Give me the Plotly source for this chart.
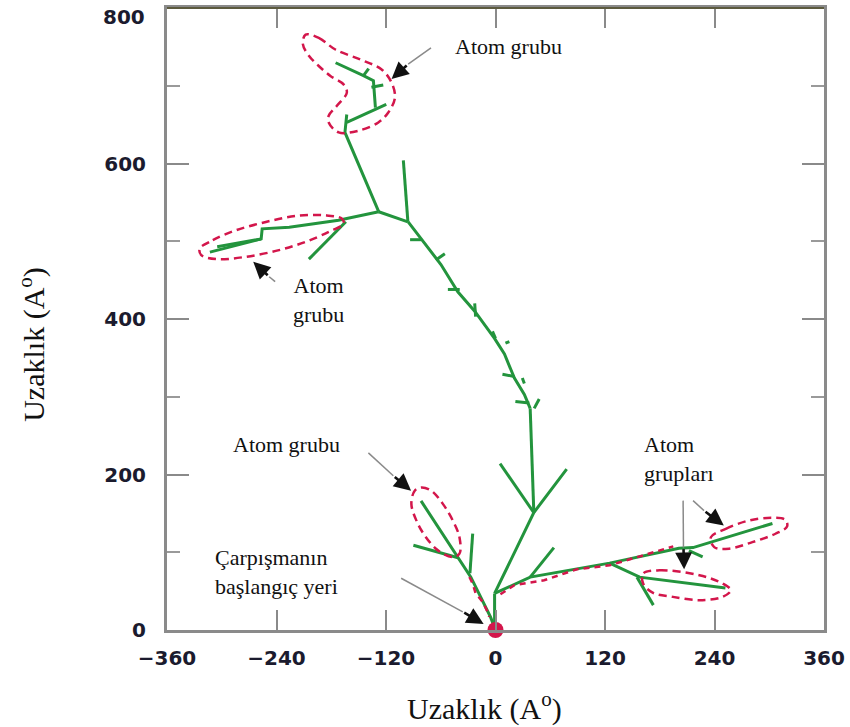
import plotly.graph_objects as go

# ---------------- data (Angstrom) ----------------
# green collision-cascade branches
origin_stem_x = [0, -1, -1]
origin_stem_y = [0, 10, 47]
lower_trunk_x = [-1, 42, 78]
lower_trunk_y = [47, 151, 207]
v_arm_x = [5, 42]
v_arm_y = [214, 151]
vertical_trunk_x = [42, 40, 38]
vertical_trunk_y = [151, 220, 285]
upper_trunk_x = [38, 31.6, 20.7, 9.8, -1.1, -22.8, -41.3, -59.8, -95.7]
upper_trunk_y = [285, 303, 324, 355, 375, 410, 435, 470, 525]
fork_up_x = [-96, -101]
fork_up_y = [525, 604]
fork_left_x = [-96, -128]
fork_left_y = [525, 538]
top_branch_x = [-128, -165, -163]
top_branch_y = [538, 640, 663]
top_cluster_x = [-163, -119.7, None, -131.6, -133.8, -144.7, -175.2, None,
                 -136, -123, None, -144.7, -139]
top_cluster_y = [653, 676, None, 672, 706.6, 713, 729.6, None,
                 698, 701, None, 713, 722]
left_cluster_x = [-128, -172, -226, -255.7, -256.8, -313, None, -256.8, -305, None, -164, -204.5]
left_cluster_y = [538, 527, 518, 516, 503, 486, None, 503, 493, None, 525, 477]
trunk_twigs_x = [-93.6, -81.6, None, -65.3, -55.5, None, -52.2, -39.2, None,
                 -22.8, -21.8, None, -3.3, 0, None, 10.9, 15.2, None,
                 7.6, 20.7, None, 29.4, 31.6, None, 21.8, 37, None, 42.4, 47.9]
trunk_twigs_y = [502, 502, None, 476, 484, None, 438, 438, None,
                 420, 403, None, 384, 375, None, 369, 371, None,
                 329, 326, None, 324, 317, None, 294, 292, None, 285, 297]
right_short_x = [38, 64]
right_short_y = [68, 106]
long_right_x = [-1, 38, 125, 201, 216.5, 303.5, None, 212, 227]
long_right_y = [47, 68, 86, 105, 106, 137, None, 102, 94]
lower_right_x = [125, 158, 252, None, 155, 173]
lower_right_y = [86, 68, 54, None, 68, 32]
lower_left_x = [0, -5.4, -27, -81.6, None, -25, -28, None, -41, -90]
lower_left_y = [0, 16.6, 68, 166, None, 124, 73, None, 93, 109]

# red dashed outlines of atom groups
top_group_x = [-208.1, -193.7, -175.5, -148.3, -124.8, -113.9, -110.2, -117.5, -128.4, -150.1,
               -171.9, -182.8, -182.8, -173.8, -162.9, -166.5, -180.9, -193.7, -204.5, -211.1]
top_group_y = [765.8, 761.6, 746.6, 733.8, 721, 704, 684.8, 665.6, 652.8, 642.2,
               640, 652.8, 661.4, 674.2, 691.2, 701.8, 712.6, 725.4, 738.6, 753.4]
left_group_x = [-324.2, -309.8, -284.3, -251.7, -219, -186.4, -168.3, -166.5, -182.8,
                -208.1, -237.2, -273.4, -306, -322.4]
left_group_y = [490.6, 501.4, 514.2, 524.8, 532.5, 533.4, 529, 522.6, 512,
                499.2, 488.6, 480, 477, 482.2]
lowleft_group_x = [-88.5, -81.3, -70.4, -57.7, -46.8, -39.5, -39.5, -46.8, -63.1, -77.6, -86.7, -92.2]
lowleft_group_y = [179.2, 183.4, 179.2, 162.2, 140.8, 119.4, 98.2, 93.8, 102.4, 121.6, 140.8, 162.2]
upright_group_x = [236.1, 252.4, 277.8, 303.2, 317.7, 319.5, 306.8, 281.5, 256, 239.7]
upright_group_y = [119.4, 130.2, 140.8, 144.3, 141.7, 133.1, 123.8, 113, 104.6, 106.6]
lowright_group_x = [161.8, 179.9, 223.4, 248.8, 257.9, 248.8, 223.4, 194.4, 172.7, 161.8]
lowright_group_y = [72.6, 76.8, 70.4, 59.8, 51.2, 42.6, 38.4, 42.6, 47.7, 59.8]
left_dash_x = [-28.6, -25, -21.8, -14.1, -8.7, -6.9]
left_dash_y = [68.2, 59.8, 47.4, 36.2, 23.4, 17]
right_dash_x = [5.4, 20.7, 53.3, 89.2, 125.1, 157.8, 194.8]
right_dash_y = [46, 57.6, 64, 78.1, 83.2, 94.7, 107.5]

# collision start point
start_x = [0]
start_y = [0]

# arrows: tail, start of black head, tip
arrow_tail_x = [-70.7, -241.5, -139.3, -103.4, 205.6, 216.5]
arrow_tail_y = [748.8, 448.0, 227.8, 66.6, 166.4, 166.4]
arrow_head_x = [-95.7, -248.0, -112.0, -35.9, 206.0, 228.5]
arrow_head_y = [727.7, 454.4, 198.4, 23.4, 106.0, 153.6]
arrow_tip_x = [-113.9, -265.5, -92.5, -13.0, 206.7, 250.2]
arrow_tip_y = [708.6, 473.6, 179.2, 7.7, 78.0, 134.4]

# labels
label_texts = ["Atom grubu", "Atom<br>grubu", "Atom grubu", "Atom<br>grupları",
               "Çarpışmanın<br>başlangıç yeri"]
label_x = [14.1, -193.7, -228.5, 160, -310]
label_y = [750, 425, 238, 220, 74]
label_anchor = ["center", "center", "center", "left", "left"]

x_ticks = [-360, -240, -120, 0, 120, 240, 360]
y_ticks = [0, 200, 400, 600, 800]
y_ticktext = ["0", "200", "400", "600", ""]
y_top_label = "800"

# ---------------- figure ----------------
GREEN = "#23943d"
RED = "#d3164b"
fig = go.Figure()

green_sets = [
    (origin_stem_x, origin_stem_y), (lower_trunk_x, lower_trunk_y), (v_arm_x, v_arm_y),
    (vertical_trunk_x, vertical_trunk_y), (upper_trunk_x, upper_trunk_y),
    (fork_up_x, fork_up_y), (fork_left_x, fork_left_y), (top_branch_x, top_branch_y),
    (top_cluster_x, top_cluster_y), (left_cluster_x, left_cluster_y),
    (trunk_twigs_x, trunk_twigs_y), (right_short_x, right_short_y),
    (long_right_x, long_right_y), (lower_right_x, lower_right_y),
    (lower_left_x, lower_left_y),
]
for xs, ys in green_sets:
    fig.add_trace(go.Scatter(x=xs, y=ys, mode="lines", line=dict(color=GREEN, width=3),
                             hoverinfo="skip", showlegend=False))

for xs, ys in [(top_group_x, top_group_y), (left_group_x, left_group_y),
               (lowleft_group_x, lowleft_group_y), (upright_group_x, upright_group_y),
               (lowright_group_x, lowright_group_y)]:
    fig.add_trace(go.Scatter(x=xs + xs[:1], y=ys + ys[:1], mode="lines",
                             line=dict(color=RED, width=2.5, dash="8px,5px", shape="spline",
                                       smoothing=1.0),
                             hoverinfo="skip", showlegend=False))
for xs, ys in [(left_dash_x, left_dash_y), (right_dash_x, right_dash_y)]:
    fig.add_trace(go.Scatter(x=xs, y=ys, mode="lines",
                             line=dict(color=RED, width=2.5, dash="6px,5px"),
                             hoverinfo="skip", showlegend=False))

# arrow tails (gray)
for i in range(len(arrow_tail_x)):
    fig.add_trace(go.Scatter(x=[arrow_tail_x[i], arrow_head_x[i]],
                             y=[arrow_tail_y[i], arrow_head_y[i]], mode="lines",
                             line=dict(color="#8a8a8a", width=1.5),
                             hoverinfo="skip", showlegend=False))

fig.add_trace(go.Scatter(x=start_x, y=start_y, mode="markers",
                         marker=dict(color=RED, size=16), cliponaxis=False,
                         hoverinfo="skip", showlegend=False))

tickfont = dict(family="DejaVu Sans", size=20, color="#1b1b2e", weight="bold")

annotations = []
for i in range(len(arrow_tip_x)):
    annotations.append(dict(x=arrow_tip_x[i], y=arrow_tip_y[i], xref="x", yref="y",
                            ax=arrow_head_x[i], ay=arrow_head_y[i], axref="x", ayref="y",
                            showarrow=True, arrowhead=2, arrowsize=1.3, arrowwidth=2.6,
                            arrowcolor="#111111", text=""))
for t, x, y, a in zip(label_texts, label_x, label_y, label_anchor):
    annotations.append(dict(x=x, y=y, xref="x", yref="y", text=t, showarrow=False,
                            xanchor=a, yanchor="middle", align=a,
                            font=dict(family="Liberation Serif", size=22, color="#111111")))
annotations.append(dict(x=0.483, y=-0.123, xref="paper", yref="paper",
                        text="Uzaklık (A<sup>o</sup>)", showarrow=False,
                        xanchor="center", yanchor="middle",
                        font=dict(family="Liberation Serif", size=30, color="#111111")))
annotations.append(dict(x=-0.205, y=0.459, xref="paper", yref="paper",
                        text="Uzaklık (A<sup>o</sup>)", showarrow=False, textangle=-90,
                        xanchor="center", yanchor="middle",
                        font=dict(family="Liberation Serif", size=30, color="#111111")))
annotations.append(dict(x=-0.0302, y=0.9856, xref="paper", yref="paper",
                        text=y_top_label, showarrow=False, xanchor="right", yanchor="middle",
                        font=tickfont))

fig.update_layout(
    width=850, height=727,
    margin=dict(l=167, r=21, t=5, b=97),
    paper_bgcolor="white", plot_bgcolor="white",
    showlegend=False,
    annotations=annotations,
    shapes=[dict(type="line", xref="paper", yref="paper", x0=0, x1=1, y0=1, y1=1,
                 line=dict(color="#5c5a3e", width=2))],
    xaxis=dict(range=[-360, 360], tickmode="array", tickvals=x_ticks,
               ticks="inside", ticklen=20, tickwidth=2, tickcolor="#8a8a8a",
               showline=True, linecolor="#8a8a8a", linewidth=3, mirror="ticks",
               showgrid=False, zeroline=False, tickfont=tickfont,
               ticklabelstandoff=8, fixedrange=True),
    yaxis=dict(range=[0, 800], tickmode="array", tickvals=y_ticks, ticktext=y_ticktext,
               ticks="inside", ticklen=22, tickwidth=2, tickcolor="#8a8a8a",
               minor=dict(tickvals=[100, 300, 500, 700], ticks="inside", ticklen=13,
                          tickwidth=2, tickcolor="#9a9a9a"),
               showline=True, linecolor="#8a8a8a", linewidth=3, mirror="ticks",
               showgrid=False, zeroline=False, tickfont=tickfont,
               ticklabelstandoff=14, fixedrange=True),
)

fig.write_html("out.html", config={"displayModeBar": False},
               post_script="document.body.style.margin='0';")
